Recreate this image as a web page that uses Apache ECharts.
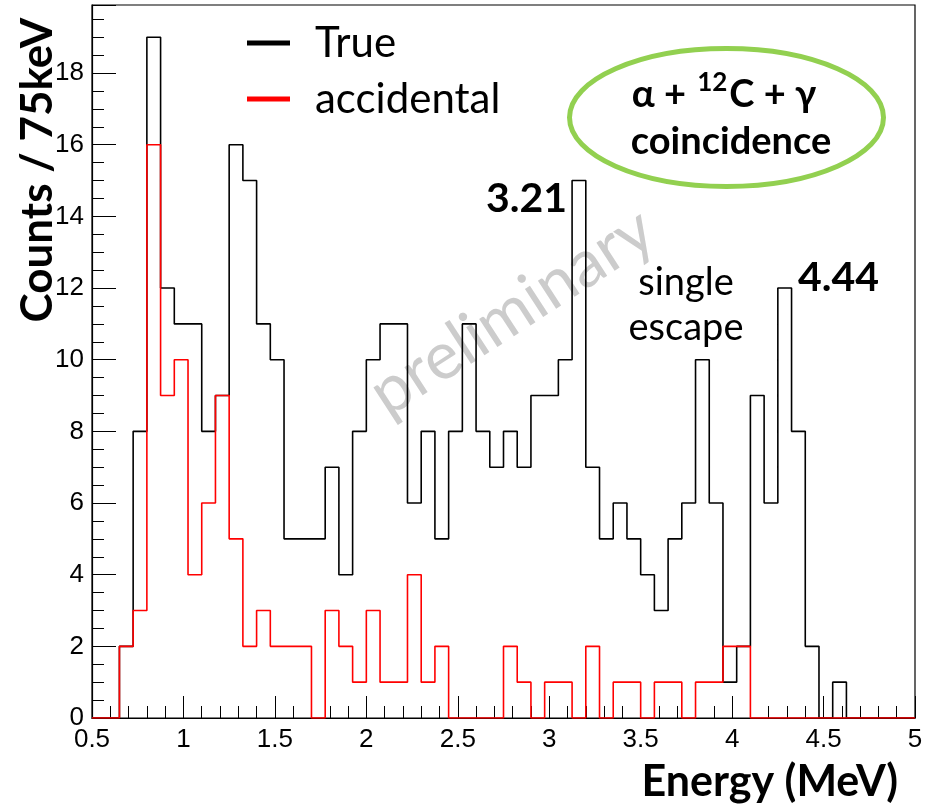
<!DOCTYPE html>
<html><head><meta charset="utf-8">
<script src="https://cdn.jsdelivr.net/npm/echarts@6/dist/echarts.min.js"></script>
<style>html,body{margin:0;padding:0;background:#fff}#c{width:926px;height:809px}</style>
</head><body><div id="c"></div>
<script>
// Histogram binning (MeV)
const binLow = 0.5;
const binWidth = 0.075;
const binHigh = 5.0;

// Counts per 75 keV bin (60 bins from 0.5 to 5.0 MeV)
const trueCounts = [0,0,2,8,19,12,11,11,8,9,16,15,11,10,5,5,5,7,4,8,10,11,11,6,8,5,8,11,8,7,8,7,9,9,10,15,7,5,6,5,4,3,5,6,10,6,1,2,9,6,12,8,2,0,1,0,0,0,0,0];
const accidentalCounts = [0,0,2,3,16,9,10,4,6,9,5,2,3,2,2,2,0,3,2,1,3,1,1,4,1,2,0,0,0,0,2,1,0,1,1,0,2,0,1,1,0,1,1,0,1,1,2,2,0,0,0,0,0,0,0,0,0,0,0,0];

const seriesNames = ['True', 'accidental'];
const xTickLabels = ['0.5','1','1.5','2','2.5','3','3.5','4','4.5','5'];
const yTickLabels = ['0','2','4','6','8','10','12','14','16','18'];
const xTitle = 'Energy (MeV)';
const yTitle = 'Counts / 75keV';
const peakLabels = ['3.21', '4.44'];
const escapeLabel = ['single', 'escape'];

function stepPoints(counts) {
  const pts = counts.map((v, i) => [binLow + i * binWidth, v]);
  pts.push([binHigh, counts[counts.length - 1]]);
  return pts;
}

const LATO = "Lato, 'Noto Sans', 'DejaVu Sans', sans-serif";
const chart = echarts.init(document.getElementById('c'), null, {renderer: 'canvas'});
chart.setOption({
  animation: false,
  backgroundColor: '#fff',
  grid: {left: 92, right: 11, top: 5, bottom: 91, containLabel: false, outerBoundsMode: 'none',
    show: true, borderColor: '#000', borderWidth: 1.2, backgroundColor: 'transparent'},
  legend: {
    data: seriesNames, orient: 'vertical', left: 242, top: 13,
    icon: 'rect', itemWidth: 43, itemHeight: 5, itemGap: 6, selectedMode: false,
    textStyle: {fontFamily: LATO, fontSize: 42, color: '#000', lineHeight: 50, padding: [0, 0, 0, 20]}
  },
  xAxis: {
    type: 'value', min: binLow, max: binHigh, interval: 0.5,
    axisLine: {lineStyle: {color: '#000', width: 1.2}},
    axisTick: {inside: true, length: 22, lineStyle: {color: '#000'}},
    minorTick: {show: true, splitNumber: 5, length: 12, lineStyle: {color: '#000'}},
    splitLine: {show: false},
    axisLabel: {fontFamily: "'Liberation Sans', Arial, sans-serif", fontSize: 26, color: '#000', margin: 9,
      formatter: v => { const i = Math.round((v - binLow) / 0.5); return xTickLabels[i] !== undefined ? xTickLabels[i] : ''; }}
  },
  yAxis: {
    type: 'value', min: 0, max: 19.9, interval: 2,
    axisLine: {show: true, lineStyle: {color: '#000', width: 1.2}},
    axisTick: {show: true, inside: true, length: 24, lineStyle: {color: '#000'}},
    minorTick: {show: true, splitNumber: 4, length: 12, lineStyle: {color: '#000'}},
    splitLine: {show: false},
    axisLabel: {fontFamily: "'Liberation Sans', Arial, sans-serif", fontSize: 26, color: '#000', margin: 8, showMaxLabel: false,
      formatter: v => { if (Math.abs(v / 2 - Math.round(v / 2)) > 1e-6) return ''; const s = yTickLabels[Math.round(v / 2)]; return s === undefined ? '' : s; }}
  },
  series: [
    {name: seriesNames[0], type: 'line', step: 'end', data: stepPoints(trueCounts), showSymbol: false, symbol: 'none',
      color: '#000', lineStyle: {color: '#000', width: 1.6}, z: 3},
    {name: seriesNames[1], type: 'line', step: 'end', data: stepPoints(accidentalCounts), showSymbol: false, symbol: 'none',
      color: '#ff0000', lineStyle: {color: '#ff0000', width: 1.6}, z: 4}
  ],
  graphic: [
    {type: 'text', z: 1, x: 512, y: 312, rotation: 33 * Math.PI / 180,
      style: {text: 'preliminary', fontFamily: LATO, fontSize: 66, fill: '#cccccc', align: 'center', verticalAlign: 'middle'}},
    {type: 'text', z: 10, x: 38, y: 170, rotation: Math.PI / 2,
      style: {text: yTitle, fontFamily: LATO, fontWeight: 'bold', fontSize: 44, fill: '#000', align: 'center', verticalAlign: 'middle'}},
    {type: 'text', z: 10, x: 898, y: 782,
      style: {text: xTitle, fontFamily: LATO, fontWeight: 'bold', fontSize: 43, fill: '#000', align: 'right', verticalAlign: 'middle'}},
    {type: 'text', z: 10, x: 567, y: 199,
      style: {text: peakLabels[0], fontFamily: LATO, fontWeight: 'bold', fontSize: 41, fill: '#000', align: 'right', verticalAlign: 'middle'}},
    {type: 'text', z: 10, x: 798, y: 278,
      style: {text: peakLabels[1], fontFamily: LATO, fontWeight: 'bold', fontSize: 41, fill: '#000', align: 'left', verticalAlign: 'middle'}},
    {type: 'text', z: 10, x: 686, y: 283,
      style: {text: escapeLabel[0], fontFamily: LATO, fontSize: 38, fill: '#000', align: 'center', verticalAlign: 'middle'}},
    {type: 'text', z: 10, x: 686, y: 328,
      style: {text: escapeLabel[1], fontFamily: LATO, fontSize: 38, fill: '#000', align: 'center', verticalAlign: 'middle'}},
    {type: 'ellipse', z: 10, shape: {cx: 726.5, cy: 117.5, rx: 157, ry: 69},
      style: {fill: 'none', stroke: '#92d050', lineWidth: 5}},
    {type: 'text', z: 11, x: 724, y: 92,
      style: {text: '{b|α + }{s|12}{b|C + γ}', align: 'center', verticalAlign: 'middle',
        rich: {b: {fontFamily: LATO, fontWeight: 'bold', fontSize: 38, fill: '#000', lineHeight: 44, verticalAlign: 'bottom'},
               s: {fontFamily: LATO, fontWeight: 'bold', fontSize: 26, fill: '#000', lineHeight: 44, verticalAlign: 'top', padding: [0, 2, 0, 2]}}}},
    {type: 'text', z: 11, x: 731, y: 142,
      style: {text: 'coincidence', fontFamily: LATO, fontWeight: 'bold', fontSize: 38, fill: '#000', align: 'center', verticalAlign: 'middle'}}
  ]
});
</script></body></html>
